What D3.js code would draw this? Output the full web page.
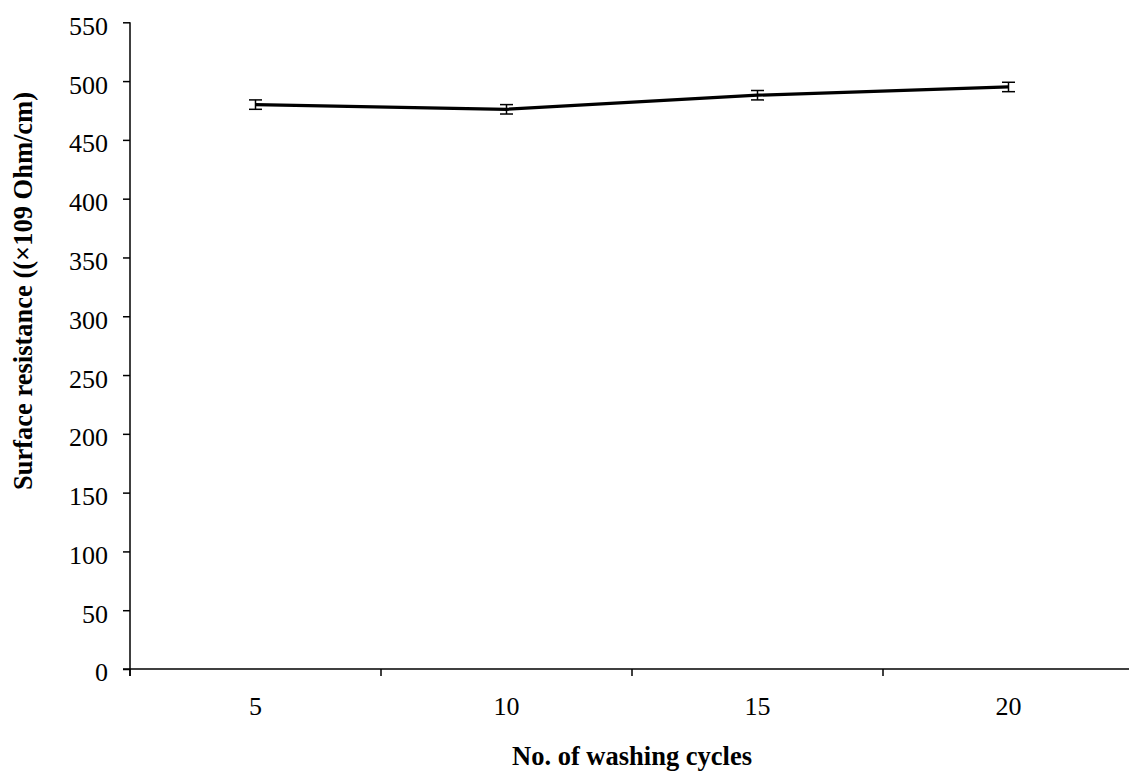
<!DOCTYPE html>
<html>
<head>
<meta charset="utf-8">
<script src="https://cdn.jsdelivr.net/npm/d3@7"></script>
<style>
  html, body { margin: 0; padding: 0; background: #fff; }
  svg { display: block; }
</style>
</head>
<body>
<svg id="chart" width="1129" height="772"></svg>
<script>
const categories = ["5", "10", "15", "20"];
const values = [480, 476, 488, 495];
const errors = [4, 4, 4, 4];
const yTicks = [0, 50, 100, 150, 200, 250, 300, 350, 400, 450, 500, 550];
const xTitle = "No. of washing cycles";
const yTitle = "Surface resistance ((×109 Ohm/cm)";

(function () {
const svg = d3.select("#chart");
const font = "'Liberation Serif', 'Times New Roman', serif";
const pLeft = 130, pRight = 1134, pTop = 22.3, pBottom = 669;
const tickFs = 26, titleFs = 26.5;

const x = d3.scaleBand().domain(categories).range([pLeft, pRight]).padding(0);
const y = d3.scaleLinear().domain([0, 550]).range([pBottom, pTop]);

// Y axis
const yAxis = svg.append("g").attr("transform", `translate(${pLeft},0)`)
  .call(d3.axisLeft(y).tickValues(yTicks).tickSize(7).tickSizeOuter(0).tickPadding(15));
yAxis.select(".domain").attr("stroke", "#000").attr("stroke-width", 1.5)
  .attr("d", `M0,${pTop}V${pBottom + 7}`);
yAxis.selectAll(".tick line").attr("stroke", "#000").attr("stroke-width", 1.5);
yAxis.selectAll(".tick text").attr("font-family", font).attr("font-size", tickFs)
  .attr("fill", "#000").attr("dy", "0.46em");

// X axis: ticks at band boundaries
const xAxis = svg.append("g").attr("transform", `translate(0,${pBottom})`);
xAxis.append("path").attr("d", `M${pLeft - 7},0H${pRight}`).attr("stroke", "#000").attr("stroke-width", 1.5);
const boundaries = categories.map(c => x(c)).concat([x(categories[categories.length - 1]) + x.bandwidth()]);
xAxis.selectAll("line.tk").data(boundaries).enter().append("line")
  .attr("x1", d => d).attr("x2", d => d).attr("y1", 0).attr("y2", 7)
  .attr("stroke", "#000").attr("stroke-width", 1.5);
xAxis.selectAll("text.lbl").data(categories).enter().append("text")
  .attr("x", d => x(d) + x.bandwidth() / 2).attr("y", 46)
  .attr("text-anchor", "middle").attr("font-family", font).attr("font-size", tickFs)
  .attr("fill", "#000").text(d => d);

// Titles
svg.append("text").attr("x", (pLeft + pRight) / 2).attr("y", 765)
  .attr("text-anchor", "middle").attr("font-family", font).attr("font-size", titleFs)
  .attr("font-weight", "bold").text(xTitle);
svg.append("text").attr("transform", "translate(32,291) rotate(-90)")
  .attr("text-anchor", "middle").attr("font-family", font).attr("font-size", titleFs)
  .attr("font-weight", "bold").text(yTitle);

// Data
const pts = categories.map((c, i) => ({ c, v: values[i], e: errors[i] }));
const cx = d => x(d.c) + x.bandwidth() / 2;
svg.append("path").datum(pts)
  .attr("d", d3.line().x(cx).y(d => y(d.v)))
  .attr("fill", "none").attr("stroke", "#000").attr("stroke-width", 3.2);

const eb = svg.append("g").attr("stroke", "#000").attr("stroke-width", 1.5);
pts.forEach(d => {
  const X = cx(d), y1 = y(d.v + d.e), y2 = y(d.v - d.e);
  eb.append("line").attr("x1", X).attr("x2", X).attr("y1", y1).attr("y2", y2);
  eb.append("line").attr("x1", X - 6.5).attr("x2", X + 6.5).attr("y1", y1).attr("y2", y1);
  eb.append("line").attr("x1", X - 6.5).attr("x2", X + 6.5).attr("y1", y2).attr("y2", y2);
});
})();
</script>
</body>
</html>
